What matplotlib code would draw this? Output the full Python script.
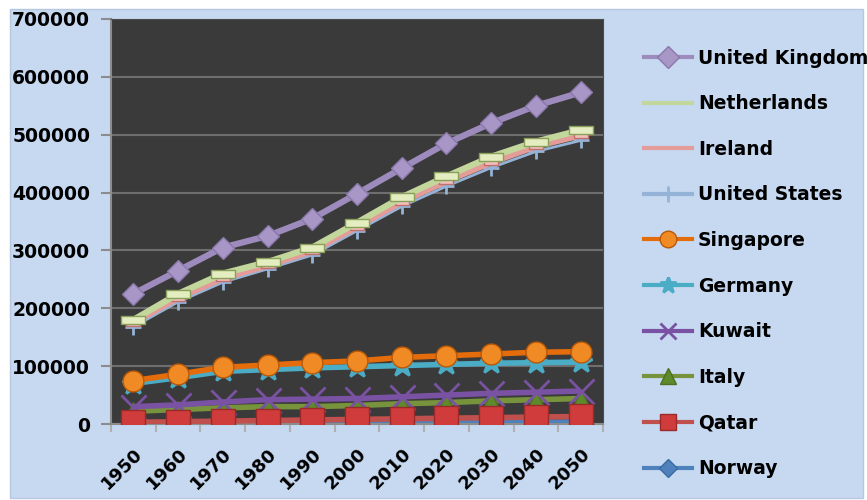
import numpy as np
import matplotlib.pyplot as plt
from matplotlib.patches import Rectangle
from matplotlib.lines import Line2D

years = ["1950", "1960", "1970", "1980", "1990", "2000", "2010", "2020", "2030", "2040", "2050"]

united_kingdom = [225000, 265000, 305000, 325000, 355000, 398000, 442000, 485000, 520000, 550000, 573000]
netherlands = [180000, 225000, 260000, 280000, 305000, 348000, 392000, 428000, 462000, 488000, 508000]
ireland = [175000, 218000, 252000, 274000, 299000, 341000, 384000, 420000, 452000, 480000, 499000]
united_states = [168000, 211000, 245000, 268000, 292000, 334000, 376000, 411000, 443000, 471000, 490000]
singapore = [75000, 86000, 98000, 102000, 106000, 109000, 115000, 118000, 121000, 124000, 125000]
germany = [70000, 80000, 91000, 94000, 97000, 99000, 101000, 103000, 105000, 106000, 107000]
kuwait = [30000, 33000, 38000, 42000, 43000, 44000, 47000, 50000, 53000, 55000, 57000]
italy = [22000, 25000, 28000, 30000, 30000, 32000, 35000, 37000, 40000, 42000, 44000]
qatar = [3000, 4000, 5000, 6000, 7000, 8000, 9000, 10000, 11000, 12000, 13000]
norway = [1000, 1000, 1500, 1500, 2000, 2000, 2500, 2500, 3000, 3000, 3500]

rect_wide = [(-1.5, -0.5), (1.5, -0.5), (1.5, 0.5), (-1.5, 0.5), (-1.5, -0.5)]
rect_small = [(-1.0, -0.5), (1.0, -0.5), (1.0, 0.5), (-1.0, 0.5), (-1.0, -0.5)]

# name, values, line colour, marker, marker size, face, edge, zorder
series = [
    ("United Kingdom", united_kingdom, "#9d8bbd", "D", 11, "#a796c6", "#8a78aa", 3),
    ("Netherlands", netherlands, "#c3d69b", rect_wide, 17, "#e4edc0", "#8aa05a", 3),
    ("Ireland", ireland, "#e39c98", rect_small, 10, "#f2c0bc", "#c0706c", 2.9),
    ("United States", united_states, "#95b3d7", "+", 11, "#95b3d7", "#95b3d7", 2.8),
    ("Singapore", singapore, "#e46c0a", "o", 15, "#f08a24", "#b85808", 3.2),
    ("Germany", germany, "#4bacc6", "*", 16, "#4bacc6", "#4bacc6", 3.1),
    ("Kuwait", kuwait, "#7a52a3", "x", 18, "#7a52a3", "#7a52a3", 3.3),
    ("Italy", italy, "#77933c", "^", 13, "#5f8a2c", "#4f6f25", 3.25),
    ("Qatar", qatar, "#c0504d", "s", 17, "#d03c3c", "#9a2a2a", 3.4),
    ("Norway", norway, "#4f81bd", "D", 9, "#4f81bd", "#3a6aa0", 2.5),
]

plt.rcParams['font.family'] = ['DejaVu Sans']
fig = plt.figure(figsize=(8.67, 5.0), dpi=100)
fig.patch.set_facecolor("white")
fig.patches.append(Rectangle((10 / 867, 2 / 500), 853 / 867, 489 / 500, transform=fig.transFigure,
                             facecolor="#c6d9f1", edgecolor="#b5c8e0", lw=1, zorder=-5))

ax = fig.add_axes([111 / 867, 76 / 500, 492 / 867, 405 / 500])
ax.set_zorder(2)
ax.set_facecolor("#3a3a3a")
x = np.arange(len(years))

handles = []
for name, vals, col, mk, ms, fc, ec, z in series:
    lw = 4.5 if name in ("United Kingdom", "Netherlands", "Ireland") else 4
    if name == "United States":
        lw = 2
    mew = 2 if mk in ("+", "x", "*") else 1
    ax.plot(x, vals, color=col, lw=lw, marker=mk, markersize=ms, markerfacecolor=fc,
            markeredgecolor=ec, markeredgewidth=mew, zorder=z, solid_capstyle="butt")
    handles.append(Line2D([], [], color=col, lw=3, marker=mk if mk not in (rect_wide, rect_small) else None,
                          markersize=min(ms, 12), markerfacecolor=fc, markeredgecolor=ec,
                          markeredgewidth=mew))

ax.set_xlim(-0.5, 10.5)
ax.set_ylim(0, 700000)
ax.set_yticks(np.arange(0, 700001, 100000))
ax.set_yticklabels([str(v) for v in range(0, 700001, 100000)], fontsize=13.5, fontweight="bold")
ax.set_xticks(x)
ax.set_xticklabels(years, rotation=45, ha="right", rotation_mode="anchor",
                   fontsize=13, fontweight="bold")
ax.set_xticks(np.arange(-0.5, 11, 1), minor=True)
ax.tick_params(axis="x", which="major", length=0, pad=15)
ax.tick_params(axis="x", which="minor", length=6, color="#b0b0b0", width=1.5)
ax.tick_params(axis="y", length=7, color="#8c8c8c", width=1.5, pad=8)
ax.grid(axis="y", color="#6e6e6e", lw=1.5, zorder=1)
ax.set_axisbelow(True)
for side in ["top", "right"]:
    ax.spines[side].set_color("#4a4a4a")
ax.spines["left"].set_color("#8c8c8c")
ax.spines["left"].set_linewidth(1.5)
ax.spines["bottom"].set_color("#8c8c8c")
ax.spines["bottom"].set_linewidth(1.5)

leg = fig.legend(handles, [s[0] for s in series], loc="upper left",
                 bbox_to_anchor=(636 / 867, 1 - 41 / 500), frameon=False,
                 prop={"size": 13.5, "weight": "bold"}, labelspacing=1.42,
                 handlelength=2.6, handletextpad=0.3, borderaxespad=0)

fig.savefig("out.png", dpi=100, facecolor=fig.get_facecolor())
